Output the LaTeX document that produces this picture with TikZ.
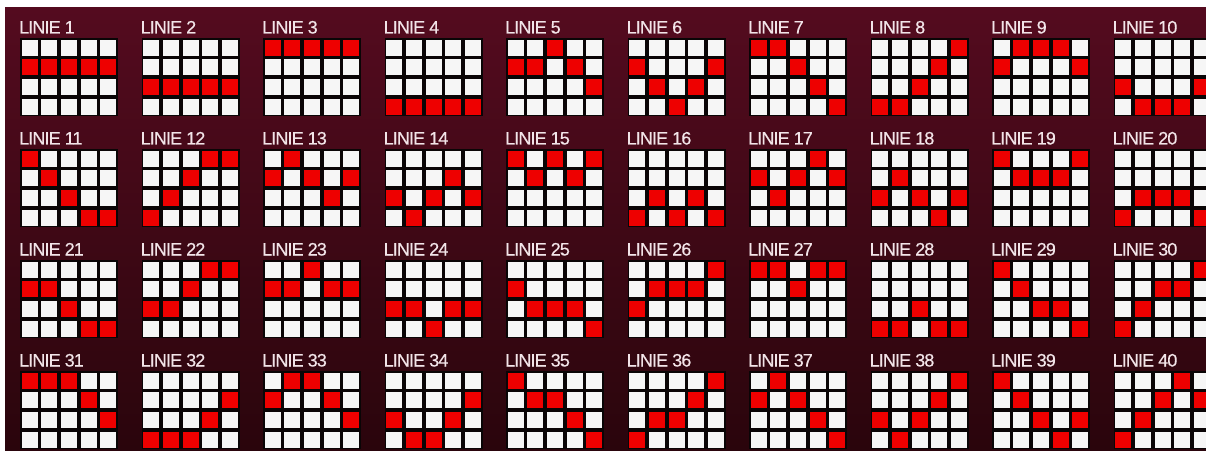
\documentclass[tikz,border=0pt]{standalone}
\usepackage{fontspec}
\setmainfont{Liberation Sans}
\newfontfamily\labfont[LetterSpace=-5,FakeBold=0.4]{Liberation Sans}
\begin{document}
\begin{tikzpicture}[x=1pt,y=-1pt]
\definecolor{bgtop}{HTML}{540B1F}
\definecolor{bgbot}{HTML}{2A050C}
\definecolor{labcol}{HTML}{F2E4E8}
\definecolor{cellwhite}{HTML}{F6F6F6}
\definecolor{cellred}{HTML}{EE0000}
\definecolor{gridblack}{HTML}{0A0506}
\tikzset{
  lab/.style={anchor=base west, inner sep=0pt, text=labcol, font=\labfont\fontsize{18}{18}\selectfont},
  cellw/.style={fill=cellwhite},
  cellr/.style={fill=cellred},
  gridbg/.style={fill=gridblack}
}
\useasboundingbox (0,0) rectangle (1206,457);
\fill[white] (0,0) rectangle (1206,457);
\shade[top color=bgtop, bottom color=bgbot] (5,8) rectangle (1206,450);
\foreach \n/\a/\b/\c/\d/\e in {
 1/1/1/1/1/1, 2/2/2/2/2/2, 3/0/0/0/0/0, 4/3/3/3/3/3, 5/1/1/0/1/2,
 6/1/2/3/2/1, 7/0/0/1/2/3, 8/3/3/2/1/0, 9/1/0/0/0/1, 10/2/3/3/3/2,
 11/0/1/2/3/3, 12/3/2/1/0/0, 13/1/0/1/2/1, 14/2/3/2/1/2, 15/0/1/0/1/0,
 16/3/2/3/2/3, 17/1/2/1/0/1, 18/2/1/2/3/2, 19/0/1/1/1/0, 20/3/2/2/2/3,
 21/1/1/2/3/3, 22/2/2/1/0/0, 23/1/1/0/1/1, 24/2/2/3/2/2, 25/1/2/2/2/3,
 26/2/1/1/1/0, 27/0/0/1/0/0, 28/3/3/2/3/3, 29/0/1/2/2/3, 30/3/2/1/1/0,
 31/0/0/0/1/2, 32/3/3/3/2/1, 33/1/0/0/1/2, 34/2/3/3/2/1, 35/0/1/1/2/3,
 36/3/2/2/1/0, 37/1/0/1/2/3, 38/2/3/2/1/0, 39/0/1/2/3/2, 40/3/2/1/0/1}
{
  \pgfmathsetmacro\gx{20+121.5*mod(\n-1,10)}
  \pgfmathsetmacro\gy{38+111*int((\n-1)/10)}
  \node[lab] (lab\n) at (\gx-1,\gy-4.5) {LINIE \n};
  \fill[gridbg] (\gx,\gy) rectangle ++(98,78.4);
  \foreach \j in {0,...,4}
    \foreach \i in {0,...,3}
      \fill[cellw] (\gx+1.8+19.6*\j,\gy+1.8+19.6*\i) rectangle ++(16,16);
  \foreach \j/\rr in {0/\a,1/\b,2/\c,3/\d,4/\e}
    \fill[cellr] (\gx+1.8+19.6*\j,\gy+1.8+19.6*\rr) rectangle ++(16,16);
}
\end{tikzpicture}
\end{document}
